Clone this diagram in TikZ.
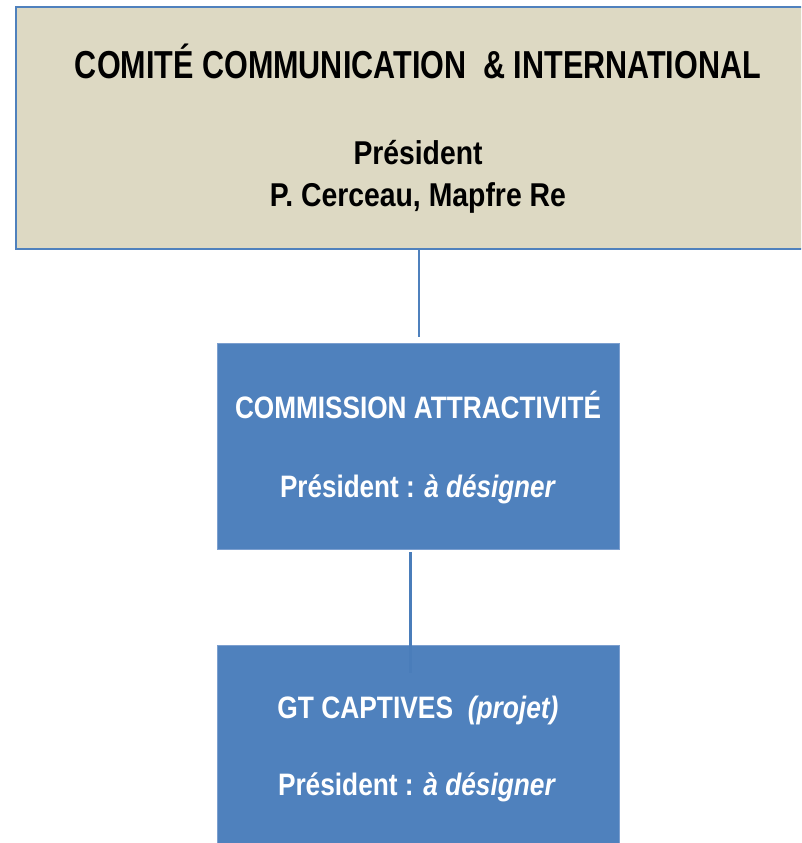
\documentclass[tikz,border=0pt]{standalone}
\usepackage{fontspec}
\usepackage{graphicx}
\setmainfont{Liberation Sans}
\definecolor{beige}{HTML}{DDD9C3}
\definecolor{ablue}{HTML}{4F81BD}
\definecolor{edgeblue}{HTML}{7C9FCF}
\definecolor{lineblue}{HTML}{4A7DBA}
\newcommand{\fitline}[2]{\resizebox{#1}{\height}{#2}}
\tikzset{
  topbox/.style={draw=ablue, line width=2pt, fill=beige, minimum width=806pt, minimum height=241pt, inner sep=0pt},
  bluebox/.style={draw=edgeblue, line width=0.8pt, fill=ablue, minimum width=402pt, minimum height=206pt, inner sep=0pt},
  dtext/.style={anchor=base, inner sep=0pt, font=\bfseries},
  conn/.style={draw=ablue, line width=2.4pt},
}
\begin{document}
\begin{tikzpicture}[x=1pt,y=-1pt]
\useasboundingbox (0,0) rectangle (801,843);
\clip (0,0) rectangle (801,843);
\fill[white] (0,0) rectangle (801,843);
% boxes
\node[topbox] (top) at (419,128) {};
\node[bluebox] (comm) at (418,446) {};
\node[bluebox] (gt) at (418,748) {};
% connectors
\coordinate (c1end) at (419,337);
\draw[conn] (top.south -| c1end) -- (c1end);
\coordinate (c2start) at (410,552);
\coordinate (c2end) at (410,673);
\draw[draw=lineblue, line width=3pt] (c2start) -- (c2end);
% texts top box
\node[dtext, font=\bfseries\fontsize{39}{44}\selectfont] (t1) at (418,78)
  {\fitline{686pt}{COMITÉ COMMUNICATION\ \ \& INTERNATIONAL}};
\node[dtext, font=\bfseries\fontsize{33}{38}\selectfont] (t2) at (418,164)
  {\fitline{129pt}{Président}};
\node[dtext, font=\bfseries\fontsize{33}{38}\selectfont] (t3) at (418,206)
  {\fitline{296pt}{P. Cerceau, Mapfre Re}};
% texts commission
\node[dtext, text=white, font=\bfseries\fontsize{31}{36}\selectfont] (c1) at (418,418)
  {\fitline{366pt}{COMMISSION ATTRACTIVITÉ}};
\node[dtext, text=white, font=\bfseries\fontsize{31}{36}\selectfont] (c2) at (418,497)
  {\fitline{276pt}{Président : \textit{à désigner}}};
% texts GT
\node[dtext, text=white, font=\bfseries\fontsize{31}{36}\selectfont] (g1) at (418,718)
  {\fitline{281pt}{GT CAPTIVES\ \ \textit{(projet)}}};
\node[dtext, text=white, font=\bfseries\fontsize{31}{36}\selectfont] (g2) at (417,795)
  {\fitline{278pt}{Président : \textit{à désigner}}};
\end{tikzpicture}
\end{document}
